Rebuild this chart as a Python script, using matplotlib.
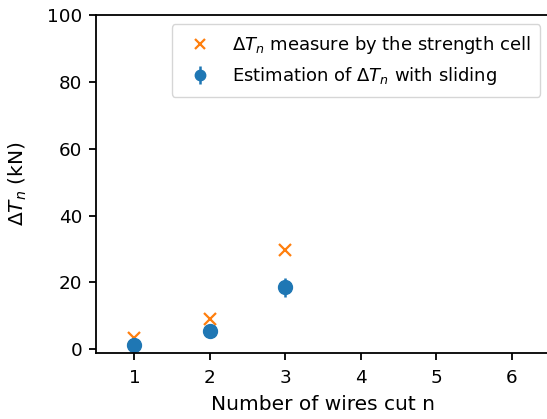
import matplotlib
matplotlib.use("Agg")
import matplotlib.pyplot as plt

n_meas = [1, 2, 3]
dT_meas = [3.4, 9.1, 29.8]
n_est = [1, 2, 3]
dT_est = [1.2, 5.6, 18.6]
dT_err = [0.8, 1.0, 2.8]

fig = plt.figure(figsize=(5.47, 4.19), dpi=100)
ax = fig.add_axes([0.1755, 0.1575, 0.829, 0.8065])
ax.plot(n_meas, dT_meas, 'x', color='#ff7f0e', markersize=9, markeredgewidth=1.6,
        label=r'$\Delta T_n$ measure by the strength cell')
ax.errorbar(n_est, dT_est, yerr=dT_err, fmt='o', color='#1f77b4', markersize=10,
            elinewidth=1.8, label=r'Estimation of $\Delta T_n$ with sliding')
ax.set_xlim(0.49, 6.5)
ax.set_ylim(-1.1, 100)
ax.set_xticks([1, 2, 3, 4, 5, 6])
ax.set_yticks([0, 20, 40, 60, 80, 100])
for s in ax.spines.values():
    s.set_linewidth(1.3)
ax.tick_params(labelsize=13.2, length=5, width=1.3)
ax.tick_params(axis='x', pad=6.5)
ax.tick_params(axis='y', pad=5)
ax.set_xlabel('Number of wires cut n', fontsize=14.5, labelpad=6)
ax.set_ylabel(r'$\Delta T_n$ (kN)', fontsize=14.5, labelpad=13)
ax.legend(loc='upper right', fontsize=13, bbox_to_anchor=(1.0, 1.0),
          markerscale=0.75, borderpad=0.55)
fig.savefig('out.png', dpi=100)
